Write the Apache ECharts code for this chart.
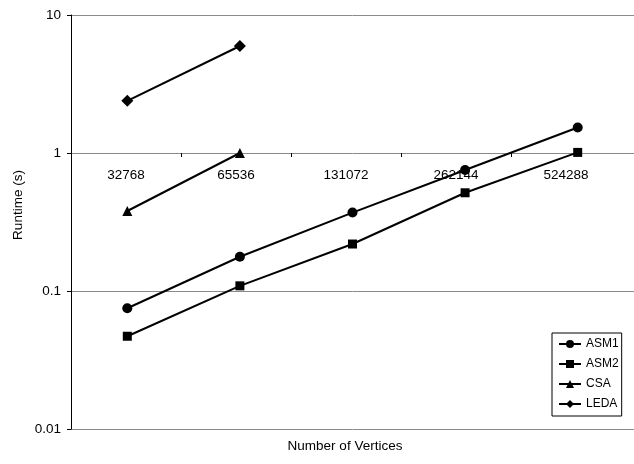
<!DOCTYPE html>
<html>
<head>
<meta charset="utf-8">
<script src="https://cdn.jsdelivr.net/npm/echarts@6/dist/echarts.min.js"></script>
<style>
html,body{margin:0;padding:0;background:#fff;}
#c{width:634px;height:464px;}
</style>
</head>
<body>
<div id="c"></div>
<script>
const categories = ['32768', '65536', '131072', '262144', '524288'];
const asm1 = [0.075, 0.177, 0.37, 0.753, 1.53];
const asm2 = [0.047, 0.109, 0.219, 0.515, 1.01];
const csa = [0.38, 1.0, '-', '-', '-'];
const leda = [2.39, 5.96, '-', '-', '-'];
const yTicks = [0.01, 0.1, 1, 10];

const FONT = 'Liberation Sans, Arial, sans-serif';
const chart = echarts.init(document.getElementById('c'), null, {renderer: 'canvas'});

function mk(name, data, symbol, size) {
  return {
    name: name, type: 'line', data: data, xAxisIndex: 0, yAxisIndex: 0,
    symbol: symbol, symbolSize: size, showSymbol: true,
    lineStyle: {color: '#000', width: 2},
    itemStyle: {color: '#000', borderWidth: 0},
    emphasis: {disabled: true}, animation: false, z: 5
  };
}

chart.setOption({
  animation: false,
  backgroundColor: '#fff',
  grid: [
    {left: 71, top: 15, width: 566, height: 414, containLabel: false},
    {left: 71, top: 153, width: 550, height: 4, containLabel: false}
  ],
  xAxis: [
    {type: 'category', gridIndex: 0, data: categories, boundaryGap: true, show: false},
    {type: 'category', gridIndex: 1, data: categories, boundaryGap: true, position: 'bottom',
     axisLine: {show: false}, axisTick: {show: false},
     splitLine: {show: true, showMinLine: false, showMaxLine: false, lineStyle: {color: '#000', width: 1}},
     axisLabel: {color: '#000', fontFamily: FONT, fontSize: 13.5, margin: 11, interval: 0}}
  ],
  yAxis: [
    {type: 'log', gridIndex: 0, min: 0.01, max: 10, logBase: 10,
     axisLine: {show: true, lineStyle: {color: '#000', width: 1}},
     axisTick: {show: true, length: 4, lineStyle: {color: '#000'}},
     splitLine: {show: true, lineStyle: {color: '#8a8a8a', width: 1}},
     axisLabel: {color: '#000', fontFamily: FONT, fontSize: 13.5, margin: 10,
       formatter: function (v) { return yTicks.indexOf(+(+v).toPrecision(6)) >= 0 ? String(+(+v).toPrecision(6)) : ''; }}},
    {type: 'value', gridIndex: 1, show: false}
  ],
  legend: {
    orient: 'vertical', left: 552, top: 333,
    data: ['ASM1', 'ASM2', 'CSA', 'LEDA'],
    borderColor: '#000', borderWidth: 1, backgroundColor: '#fff',
    padding: [4, 3, 5, 6], itemWidth: 22, itemHeight: 10, itemGap: 6,
    textStyle: {color: '#000', fontFamily: FONT, fontSize: 12, lineHeight: 14},
    selectedMode: false
  },
  graphic: [
    {type: 'text', x: 18, y: 205, rotation: Math.PI / 2,
     style: {text: 'Runtime (s)', fill: '#000', font: '13.5px ' + FONT, align: 'center', verticalAlign: 'middle'}},
    {type: 'text', x: 345, y: 446,
     style: {text: 'Number of Vertices', fill: '#000', font: '13.5px ' + FONT, align: 'center', verticalAlign: 'middle'}}
  ],
  series: [
    mk('ASM1', asm1, 'circle', 10),
    mk('ASM2', asm2, 'rect', 9),
    mk('CSA', csa, 'triangle', 10),
    mk('LEDA', leda, 'diamond', [12, 12])
  ]
});
</script>
</body>
</html>
